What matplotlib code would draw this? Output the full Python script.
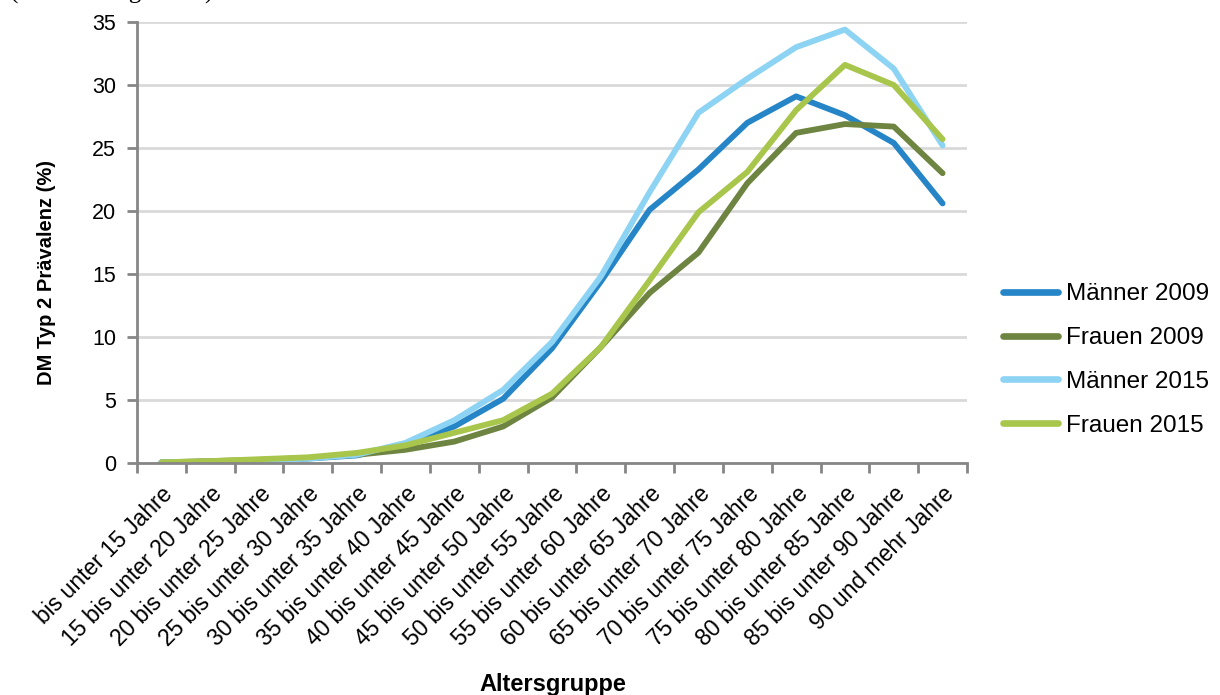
import matplotlib
matplotlib.use("Agg")
import matplotlib.pyplot as plt
import numpy as np
from matplotlib.ticker import FixedLocator

categories = ["bis unter 15 Jahre", "15 bis unter 20 Jahre", "20 bis unter 25 Jahre",
              "25 bis unter 30 Jahre", "30 bis unter 35 Jahre", "35 bis unter 40 Jahre",
              "40 bis unter 45 Jahre", "45 bis unter 50 Jahre", "50 bis unter 55 Jahre",
              "55 bis unter 60 Jahre", "60 bis unter 65 Jahre", "65 bis unter 70 Jahre",
              "70 bis unter 75 Jahre", "75 bis unter 80 Jahre", "80 bis unter 85 Jahre",
              "85 bis unter 90 Jahre", "90 und mehr Jahre"]

maenner_2009 = [0.05, 0.1, 0.2, 0.35, 0.6, 1.5, 2.9, 5.1, 9.1, 14.4, 20.1, 23.3, 27.0, 29.1, 27.6, 25.4, 20.6]
frauen_2009 = [0.05, 0.15, 0.25, 0.4, 0.65, 1.05, 1.7, 2.9, 5.2, 9.2, 13.5, 16.7, 22.2, 26.2, 26.9, 26.7, 23.0]
maenner_2015 = [0.05, 0.1, 0.2, 0.35, 0.65, 1.6, 3.4, 5.8, 9.6, 14.8, 21.5, 27.8, 30.5, 33.0, 34.4, 31.3, 25.2]
frauen_2015 = [0.05, 0.15, 0.3, 0.45, 0.8, 1.4, 2.4, 3.4, 5.5, 9.2, 14.5, 19.9, 23.1, 28.0, 31.6, 30.0, 25.7]

series_labels = ["Männer 2009", "Frauen 2009", "Männer 2015", "Frauen 2015"]
colors = ["#2585c7", "#6e8441", "#8dd3f3", "#a8c64c"]
yticks = [0, 5, 10, 15, 20, 25, 30, 35]

plt.rcParams['font.family'] = ['Liberation Sans', 'DejaVu Sans']

W, H = 1220, 695
fig = plt.figure(figsize=(W / 100, H / 100), dpi=100)
ax = fig.add_axes([137 / W, (H - 463) / H, (967 - 137) / W, (463 - 22) / H])

x = np.arange(len(categories))
for vals, lab, col in zip([maenner_2009, frauen_2009, maenner_2015, frauen_2015], series_labels, colors):
    ax.plot(x, vals, color=col, lw=4.2, label=lab, solid_capstyle='round', solid_joinstyle='round')

ax.set_xlim(-0.5, len(categories) - 0.5)
ax.set_ylim(0, 35)
ax.set_yticks(yticks)
ax.set_yticklabels([str(v) for v in yticks], fontsize=15.5)
ax.yaxis.grid(True, color="#d9d9d9", lw=2)
ax.set_axisbelow(True)

ax.xaxis.set_major_locator(FixedLocator(np.arange(len(categories) + 1) - 0.5))
ax.set_xticklabels([])
ax.xaxis.set_minor_locator(FixedLocator(x))
ax.set_xticklabels(categories, minor=True, fontsize=16.5, rotation=45, ha='right', va='top',
                   rotation_mode='anchor')
ax.tick_params(axis='x', which='major', length=7, width=2, color="#868686")
ax.tick_params(axis='x', which='minor', length=0, pad=14)
ax.tick_params(axis='y', length=7, width=2, color="#868686", pad=8)

for s in ['top', 'right']:
    ax.spines[s].set_visible(False)
for s in ['left', 'bottom']:
    ax.spines[s].set_color("#868686")
    ax.spines[s].set_linewidth(2)

fig.text(46 / W, 1 - 272 / H, "DM Typ 2 Prävalenz (%)", fontsize=14.5, fontweight='bold',
         rotation=90, ha='center', va='center')
fig.text(553 / W, 1 - 685 / H, "Altersgruppe", fontsize=17, fontweight='bold',
         ha='center', va='center')

fig.text(10 / W, 1 + 1 / H, "(Abrechnungsdaten)", fontsize=18, family=['Liberation Serif', 'DejaVu Serif'],
         ha='left', va='baseline')

leg = fig.legend(loc='center left', bbox_to_anchor=(1003 / W, 1 - 360 / H), frameon=False,
                 fontsize=17.5, handlelength=2.25, handletextpad=0.33, labelspacing=0.9,
                 borderpad=0, borderaxespad=0)
for line in leg.get_lines():
    line.set_linewidth(4.8)

fig.savefig("out.png", dpi=100)
